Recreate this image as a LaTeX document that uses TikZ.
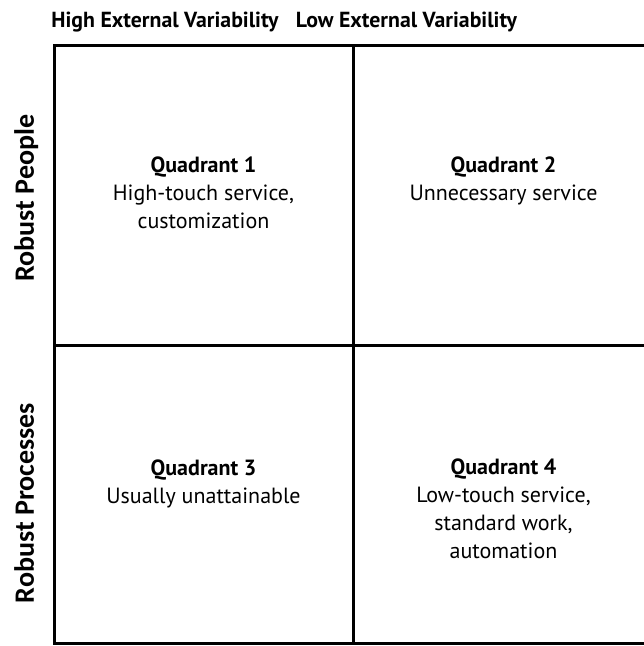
\documentclass[tikz,border=0pt]{standalone}
\usepackage{fontspec}
\setmainfont{PT Sans}
\newfontfamily\sidefont{Carlito}
\begin{document}
\begin{tikzpicture}[x=1pt,y=-1pt,
  gridline/.style={line width=3pt},
  colhead/.style={font=\fontsize{21.8}{26}\selectfont\bfseries, anchor=base, inner sep=0pt},
  rowhead/.style={font=\sidefont\fontsize{28}{30}\selectfont\bfseries, anchor=base, inner sep=0pt, rotate=90},
  quadtext/.style={align=center, anchor=base, inner sep=0pt, font=\fontsize{22}{28}\selectfont},
]
\useasboundingbox (0,0) rectangle (644,646);

% quadrant grid
\coordinate (tl) at (54,45);
\coordinate (br) at (660,643);
\draw[gridline] (tl) rectangle (br);
\draw[gridline] (353,45) -- (353,643);
\draw[gridline] (54,345) -- (660,345);

% column headings
\node[colhead] (high) at (165,27) {High External Variability};
\node[colhead] (low) at (406.5,27) {Low External Variability};

% row headings
\node[rowhead] (people) at (34,198) {Robust People};
\node[rowhead] (processes) at (34,503) {Robust Processes};

% quadrant contents (anchored at the baseline of the last line)
\node[quadtext] (q1) at (203.5,228) {\textbf{Quadrant 1}\\High-touch service,\\customization};
\node[quadtext] (q2) at (503.5,200) {\textbf{Quadrant 2}\\Unnecessary service};
\node[quadtext] (q3) at (203.5,503) {\textbf{Quadrant 3}\\Usually unattainable};
\node[quadtext] (q4) at (503.5,558) {\textbf{Quadrant 4}\\Low-touch service,\\standard work,\\automation};
\end{tikzpicture}
\end{document}
